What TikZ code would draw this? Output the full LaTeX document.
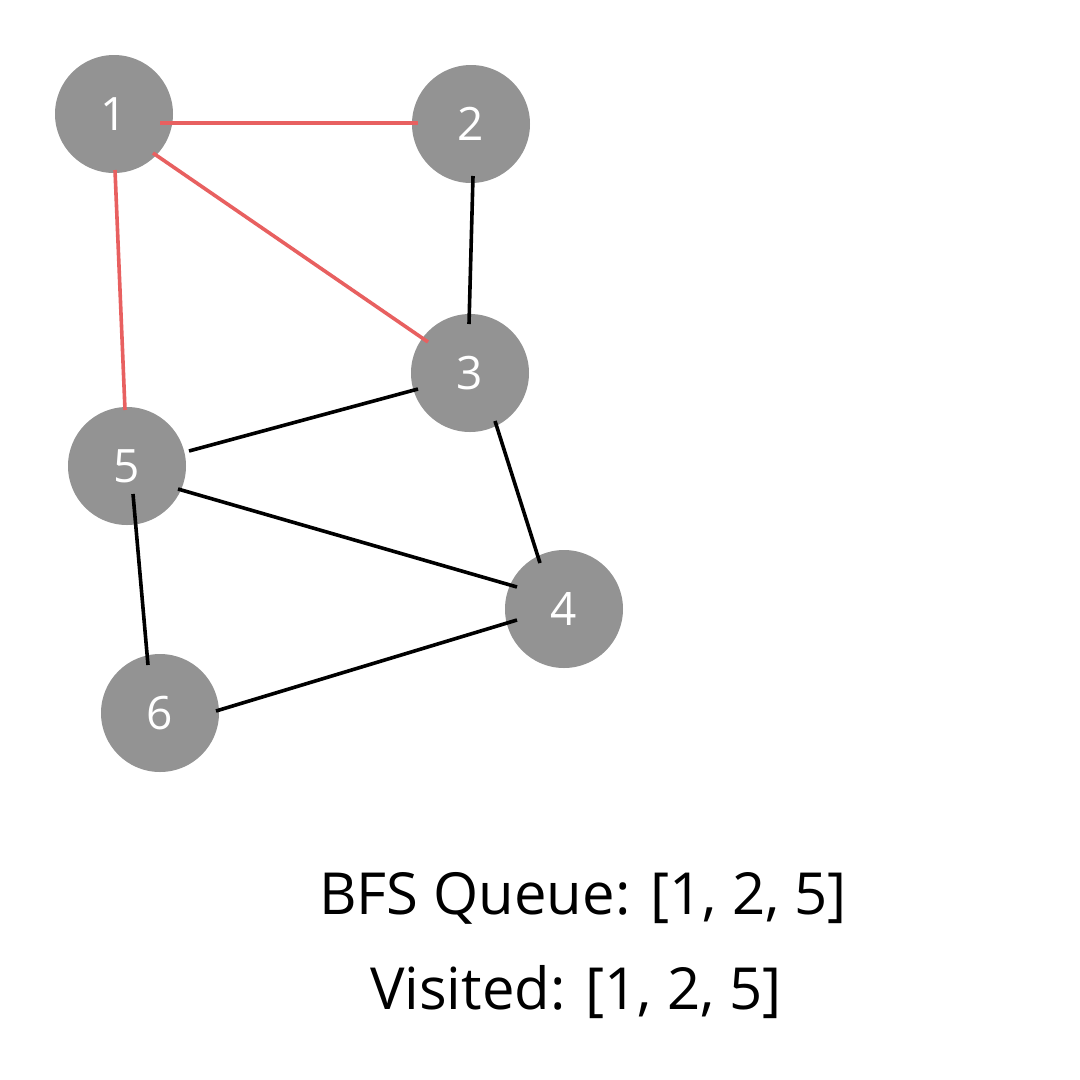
\documentclass[tikz,border=0pt]{standalone}
\usepackage{fontspec}
\setmainfont{Open Sans}
\definecolor{nodegray}{HTML}{939393}
\definecolor{visitred}{HTML}{E86060}
\begin{document}
\begin{tikzpicture}[x=1pt,y=-1pt,
  vertex/.style={circle,fill=nodegray,draw=none,minimum size=118pt,inner sep=0pt,text=white,font=\fontsize{46}{55}\selectfont},
  edge/.style={line width=3.6pt,black},
  redge/.style={line width=3.6pt,visitred},
  info/.style={anchor=base,font=\fontsize{58}{70}\selectfont,text=black,inner sep=0pt}]
\useasboundingbox[fill=white] (0,0) rectangle (1080,1080);
\node[vertex] (n1) at (114,114) {1};
\node[vertex] (n2) at (471,124) {2};
\node[vertex] (n3) at (470,373) {3};
\node[vertex] (n5) at (127,466) {5};
\node[vertex] (n4) at (564,609) {4};
\node[vertex] (n6) at (160,713) {6};
\draw[redge] ([shift={(-53,-1)}]n2.center) -- ([shift={(46,9)}]n1.center);
\draw[redge] ([shift={(-42,-31)}]n3.center) -- ([shift={(39,39)}]n1.center);
\draw[redge] ([shift={(-2,-56)}]n5.center) -- ([shift={(1,56)}]n1.center);
\draw[edge] ([shift={(2,52)}]n2.center) -- ([shift={(-1,-49)}]n3.center);
\draw[edge] ([shift={(-52,16)}]n3.center) -- ([shift={(62,-15)}]n5.center);
\draw[edge] ([shift={(25,48)}]n3.center) -- ([shift={(-24,-46)}]n4.center);
\draw[edge] ([shift={(51,23)}]n5.center) -- ([shift={(-47,-22)}]n4.center);
\draw[edge] ([shift={(6,28)}]n5.center) -- ([shift={(-12,-48)}]n6.center);
\draw[edge] ([shift={(56,-2)}]n6.center) -- ([shift={(-47,11)}]n4.center);
\node[info] (queue) at (583,914) {BFS Queue: [1, 2, 5]};
\node[info] (visited) at (576,1009) {Visited: [1, 2, 5]};
\end{tikzpicture}
\end{document}
